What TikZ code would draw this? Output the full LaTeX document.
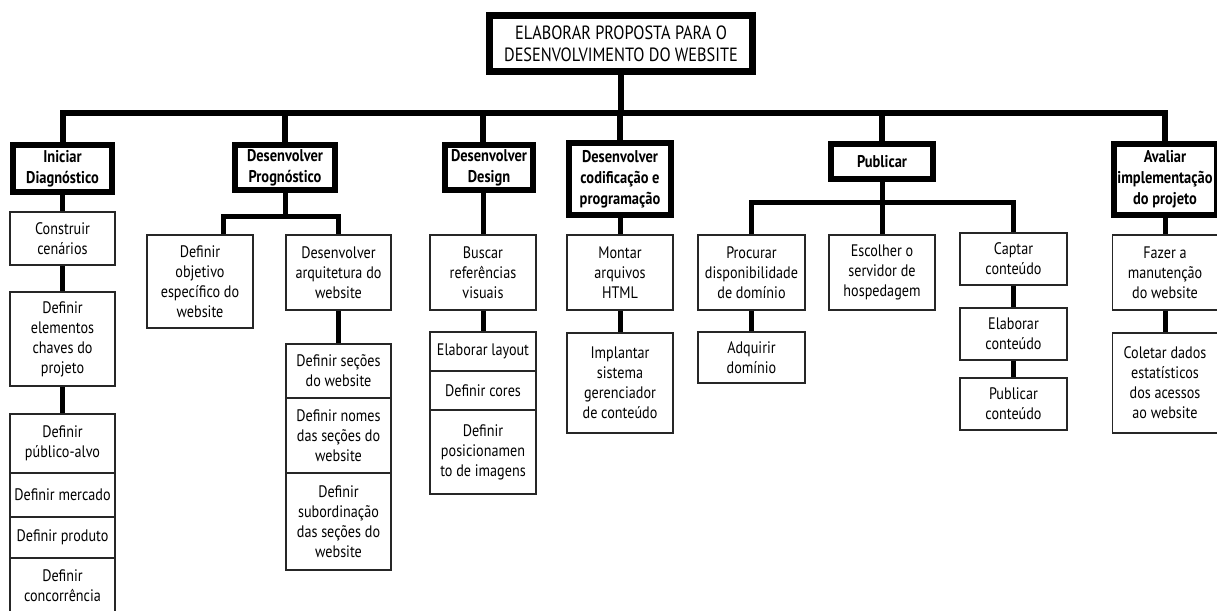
\documentclass[tikz,border=0pt]{standalone}
\usepackage{fontspec}
\setmainfont{PT Sans}[FakeStretch=0.85]

\begin{document}
\begin{tikzpicture}[x=0.6pt, y=-0.6pt,
  head/.style={rectangle, draw, line width=4.2pt, inner sep=0pt, align=center, font=\fontsize{11.5}{13.2}\selectfont},
  phase/.style={rectangle, draw, line width=3.6pt, inner sep=0pt, align=center, font=\bfseries\fontsize{10.2}{12.6}\selectfont},
  task/.style={rectangle, draw=black!85, line width=0.9pt, inner sep=0pt, align=center, font=\fontsize{10}{12}\selectfont},
  sz/.style 2 args={minimum width=#1*0.6pt, minimum height=#2*0.6pt},
  bar/.style={line width=3.6pt},
  link/.style={line width=3pt}
]
  \useasboundingbox (0,0) rectangle (1217,610);

  % top
  \node[head, sz={263}{56}] (top) at (621,43.5) {ELABORAR PROPOSTA PARA O\\DESENVOLVIMENTO DO WEBSITE};

  % phases
  \node[phase, sz={99}{47}] (ini) at (62.5,168.5) {Iniciar\\Diagnóstico};
  \node[phase, sz={100}{45}] (prog) at (285,167.5) {Desenvolver\\Prognóstico};
  \node[phase, sz={88}{45}] (des) at (489,167.5) {Desenvolver\\Design};
  \node[phase, sz={102}{72}] (cod) at (620,179) {Desenvolver\\codificação e\\programação};
  \node[phase, sz={102}{35}] (pub) at (882,161.5) {Publicar};
  \node[phase, sz={103}{71}] (aval) at (1165,179.5) {Avaliar\\implementação\\do projeto};

  % Iniciar Diagnostico
  \node[task, sz={105}{53}] (constr) at (62.5,238.5) {Construir\\cenários};
  \node[task, sz={105}{94}] (elem) at (62.5,339) {Definir\\elementos\\chaves do\\projeto};
  \node[task, sz={105}{59}] (publico) at (62.5,443.5) {Definir\\público-alvo};
  \node[task, sz={105}{44}] (merc) at (62.5,495) {Definir mercado};
  \node[task, sz={105}{41}] (prod) at (62.5,537.5) {Definir produto};
  \node[task, sz={105}{56}] (conc) at (62.5,586) {Definir\\concorrência};

  % Desenvolver Prognostico
  \node[task, sz={106}{93}] (obj) at (200,281.5) {Definir\\objetivo\\específico do\\website};
  \node[task, sz={105}{75}] (arq) at (338.5,272.5) {Desenvolver\\arquitetura do\\website};
  \node[task, sz={105}{54}] (secoes) at (338.5,371) {Definir seções\\do website};
  \node[task, sz={105}{75}] (nomes) at (338.5,435.5) {Definir nomes\\das seções do\\website};
  \node[task, sz={105}{97}] (subord) at (338.5,521.5) {Definir\\subordinação\\das seções do\\website};

  % Desenvolver Design
  \node[task, sz={106}{75}] (busc) at (483,272.5) {Buscar\\referências\\visuais};
  \node[task, sz={106}{39}] (layout) at (483,351.5) {Elaborar layout};
  \node[task, sz={106}{39}] (cores) at (483,390.5) {Definir cores};
  \node[task, sz={106}{84}] (posic) at (483,452) {Definir\\posicionamen\\to de imagens};

  % Desenvolver codificacao
  \node[task, sz={106}{75}] (mont) at (620,272.5) {Montar\\arquivos\\HTML};
  \node[task, sz={106}{100}] (impl) at (620,383) {Implantar\\sistema\\gerenciador\\de conteúdo};

  % Publicar
  \node[task, sz={107}{75}] (proc) at (751.5,272.5) {Procurar\\disponibilidade\\de domínio};
  \node[task, sz={107}{51}] (adq) at (751.5,357.5) {Adquirir\\domínio};
  \node[task, sz={106}{75}] (esc) at (882,272.5) {Escolher o\\servidor de\\hospedagem};
  \node[task, sz={107}{52}] (capt) at (1013.5,259) {Captar\\conteúdo};
  \node[task, sz={107}{52}] (elab) at (1013.5,334) {Elaborar\\conteúdo};
  \node[task, sz={107}{52}] (publ) at (1013.5,404) {Publicar\\conteúdo};

  % Avaliar implementacao
  \node[task, sz={105}{75}] (faz) at (1165,272.5) {Fazer a\\manutenção\\do website};
  \node[task, sz={105}{100}] (colet) at (1165,383) {Coletar dados\\estatísticos\\dos acessos\\ao website};

  % main bar
  \coordinate (trunk) at (621,113);
  \draw[bar] (top.south) -- (top.south |- trunk);
  \draw[bar] (ini.north) -- (ini.north |- trunk) -- (aval.north |- trunk) -- (aval.north);
  \draw[bar] (prog.north |- trunk) -- (prog.north);
  \draw[bar] (busc.north |- trunk) -- (busc.north |- des.north);
  \draw[bar] (cod.north |- trunk) -- (cod.north);
  \draw[bar] (pub.north |- trunk) -- (pub.north);

  % sub links
  \draw[link] (ini.south) -- (constr.north);
  \draw[link] (constr.south) -- (elem.north);
  \draw[link] (elem.south) -- (publico.north);

  \coordinate (progbar) at (285,216);
  \draw[link] (prog.south) -- (prog.south |- progbar);
  \draw[link] ([xshift=13.8pt]obj.north) |- (arq.north |- progbar) -- (arq.north);
  \draw[link] (arq.south) -- (secoes.north);

  \draw[link] (des.south -| busc.north) -- (busc.north);
  \draw[link] (busc.south) -- (layout.north);

  \draw[link] (cod.south) -- (mont.north);
  \draw[link] (mont.south) -- (impl.north);

  \coordinate (pubbar) at (882,202);
  \draw[link] (pub.south) -- (esc.north);
  \draw[link] (proc.north) |- (capt.north |- pubbar) -- (capt.north);
  \draw[link] (proc.south) -- (adq.north);
  \draw[link] (capt.south) -- (elab.north);
  \draw[link] (elab.south) -- (publ.north);

  \draw[link] (aval.south) -- (faz.north);
  \draw[link] (faz.south) -- (colet.north);
\end{tikzpicture}
\end{document}
